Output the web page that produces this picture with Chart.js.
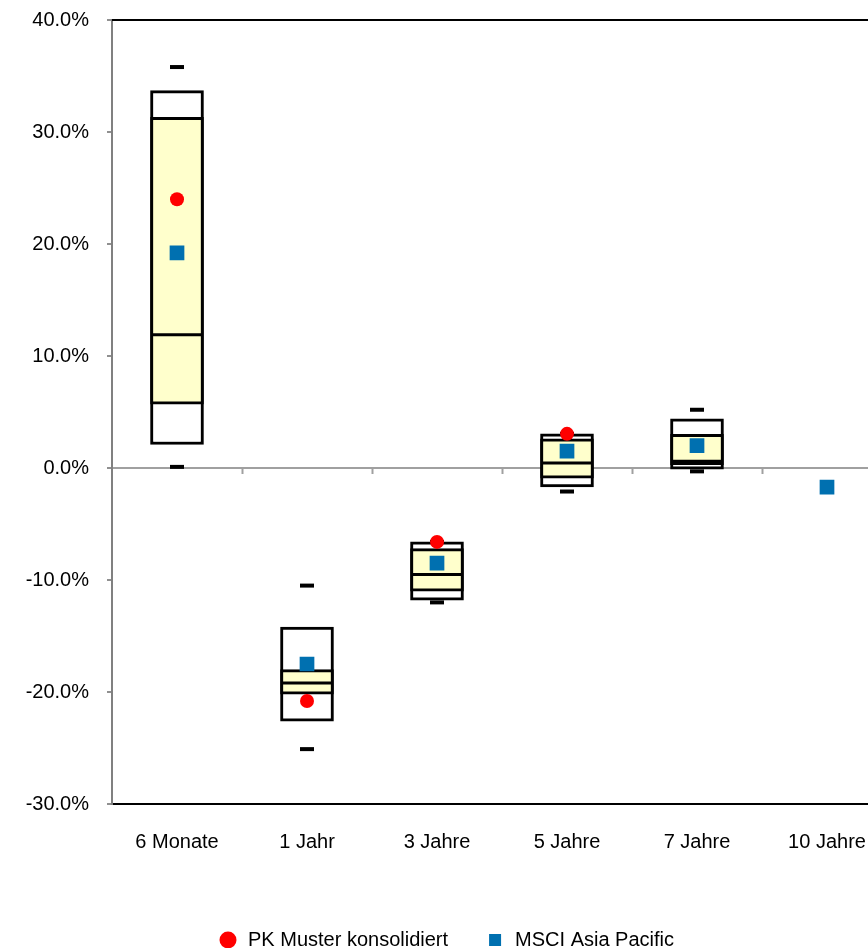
<!DOCTYPE html>
<html>
<head>
<meta charset="utf-8">
<script src="https://cdn.jsdelivr.net/npm/chart.js@4/dist/chart.umd.min.js"></script>
<style>
  html, body { margin: 0; padding: 0; background: #fff; overflow: hidden; }
  #wrap { position: absolute; left: 0; top: 0; width: 927px; height: 960px; }
</style>
</head>
<body>
<div id="wrap"><canvas id="chart" width="927" height="960"></canvas></div>
<script>
const labels = ['6 Monate', '1 Jahr', '3 Jahre', '5 Jahre', '7 Jahre', '10 Jahre'];

// outer (white) box and inner (yellow) box, as [low, high]
const outerBox = [[2.1, 33.7], [-22.6, -14.2], [-11.8, -6.6], [-1.7, 3.05], [-0.1, 4.4], null];
const innerBox = [[5.7, 31.3], [-20.2, -18.0], [-11.0, -7.2], [-0.9, 2.6], [0.3, 3.0], null];
const median = [11.9, -19.2, -9.5, 0.45, 0.6, null];
const maxVal = [35.8, -10.5, -6.6, 3.05, 5.2, null];
const minVal = [0.1, -25.1, -12.0, -2.1, -0.3, null];

const pkMuster = [24.0, -20.8, -6.6, 3.05, null, null];
const msciAsiaPacific = [19.2, -17.5, -8.5, 1.5, 2.0, -1.7];

const yTicks = { min: -30, max: 40, step: 10 };

Chart.defaults.font.family = 'Arial, "Liberation Sans", sans-serif';
Chart.defaults.font.size = 20;
Chart.defaults.color = '#000';

const framePlugin = {
    id: 'frame',
    beforeDatasetsDraw(chart) {
        const { ctx, chartArea, scales } = chart;
        const x = scales.x, y = scales.y;
        const y0 = y.getPixelForValue(0);
        const half = (x.getPixelForValue(1) - x.getPixelForValue(0)) / 2;
        ctx.save();
        ctx.strokeStyle = '#a0a0a0';
        ctx.lineWidth = 2;
        for (let i = 0; i < labels.length - 1; i++) {
            const px = Math.round(x.getPixelForValue(i) + half) + 0.5;
            ctx.beginPath();
            ctx.moveTo(px, y0);
            ctx.lineTo(px, y0 + 6);
            ctx.stroke();
        }
        ctx.strokeStyle = '#000';
        ctx.beginPath();
        ctx.moveTo(chartArea.left, chartArea.top);
        ctx.lineTo(chartArea.right, chartArea.top);
        ctx.lineTo(chartArea.right, chartArea.bottom);
        ctx.stroke();
        ctx.restore();
    }
};

const dash = (name, data, radius, width, order) => ({
    type: 'line',
    label: name,
    data: data,
    showLine: false,
    pointStyle: 'line',
    pointRadius: radius,
    borderColor: '#000',
    backgroundColor: '#000',
    pointBorderWidth: width,
    order: order
});

const context = document.getElementById('chart').getContext('2d');

const chart = new Chart(context, {
    type: 'bar',
    data: {
        labels: labels,
        datasets: [
            {
                type: 'line',
                label: 'PK Muster konsolidiert',
                data: pkMuster,
                showLine: false,
                pointStyle: 'circle',
                pointRadius: 7,
                pointBorderWidth: 0,
                backgroundColor: '#ff0000',
                borderColor: '#ff0000',
                order: 0
            },
            {
                type: 'line',
                label: 'MSCI Asia Pacific',
                data: msciAsiaPacific,
                showLine: false,
                pointStyle: 'rect',
                pointRadius: 10.4,
                pointBorderWidth: 0,
                backgroundColor: '#0070b0',
                borderColor: '#0070b0',
                order: 1
            },
            dash('median', median, 26, 3, 2),
            dash('max', maxVal, 7, 4, 3),
            dash('min', minVal, 7, 4, 4),
            {
                label: 'inner',
                data: innerBox,
                backgroundColor: '#ffffcc',
                borderColor: '#000',
                borderWidth: 3,
                borderSkipped: false,
                barThickness: 53,
                grouped: false,
                order: 5
            },
            {
                label: 'outer',
                data: outerBox,
                backgroundColor: '#ffffff',
                borderColor: '#000',
                borderWidth: 3,
                borderSkipped: false,
                barThickness: 53,
                grouped: false,
                order: 6
            }
        ]
    },
    options: {
        responsive: false,
        animation: false,
        events: [],
        layout: { autoPadding: false, padding: { top: 20, right: 35, left: 0, bottom: 0 } },
        scales: {
            x: {
                grid: { display: false, drawTicks: false },
                border: { color: '#000', width: 2 },
                ticks: { padding: 26, color: '#000' },
                afterFit: (scale) => {
                    scale.height = 89;
                    scale.paddingLeft = 0;
                    scale.paddingRight = 0;
                }
            },
            y: {
                min: yTicks.min,
                max: yTicks.max,
                ticks: {
                    stepSize: yTicks.step,
                    padding: 18,
                    color: '#000',
                    callback: (v) => v.toFixed(1) + '%'
                },
                grid: {
                    color: (c) => (c.tick && c.tick.value === 0) ? '#a0a0a0' : 'rgba(0,0,0,0)',
                    lineWidth: 2,
                    tickColor: '#909090',
                    tickLength: 5
                },
                border: { color: '#808080', width: 2 },
                afterFit: (scale) => {
                    scale.width = 112;
                    scale.paddingTop = 0;
                    scale.paddingBottom = 0;
                }
            }
        },
        plugins: {
            tooltip: { enabled: false },
            legend: {
                position: 'bottom',
                labels: {
                    usePointStyle: true,
                    boxHeight: 12,
                    padding: 37,
                    color: '#000',
                    filter: (item) => item.datasetIndex < 2
                }
            }
        }
    },
    plugins: [framePlugin]
});
</script>
</body>
</html>
